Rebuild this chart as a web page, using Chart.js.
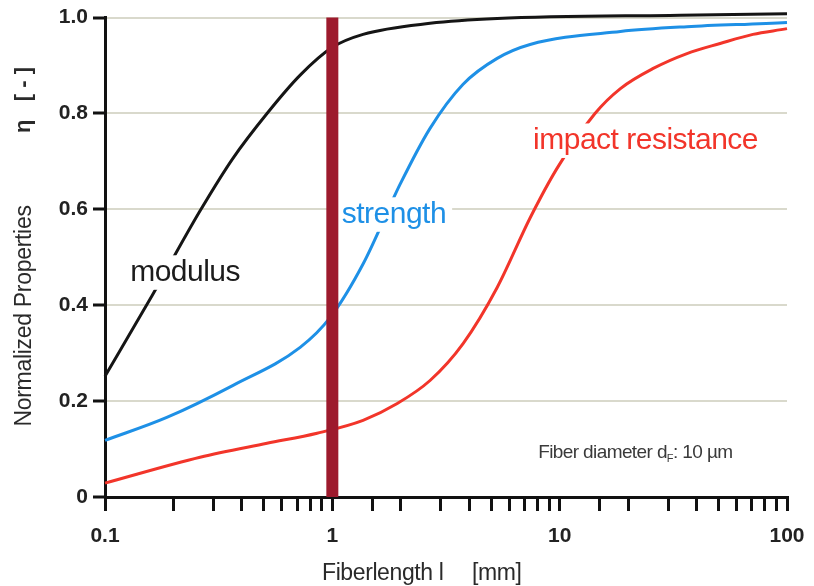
<!DOCTYPE html>
<html>
<head>
<meta charset="utf-8">
<script src="https://cdn.jsdelivr.net/npm/chart.js@4.4.1/dist/chart.umd.min.js"></script>
<style>
  body { margin: 0; background: #fff; }
</style>
</head>
<body>
<canvas id="fiberChart" width="814" height="586"></canvas>
<script>
//<-------- values (x = fiber length in mm, y = normalized property) -------->
const modulusX  = [0.1, 0.161, 0.262, 0.366, 0.516, 0.722, 1.0, 1.365, 2.69, 5.31, 33.9, 100, 130];
const modulusY  = [0.252, 0.42, 0.597, 0.707, 0.80, 0.88, 0.938, 0.965, 0.988, 0.998, 1.005, 1.008, 1.009];

const strengthX = [0.1, 0.187, 0.366, 0.722, 0.977, 1.365, 1.99, 2.69, 3.76, 5.31, 7.41, 18.5, 36.3, 100, 130];
const strengthY = [0.118, 0.166, 0.233, 0.312, 0.374, 0.486, 0.653, 0.769, 0.861, 0.915, 0.944, 0.971, 0.981, 0.99, 0.994];

const impactX   = [0.1, 0.262, 0.516, 0.857, 1.365, 1.93, 2.69, 3.76, 5.31, 7.41, 9.75, 14.3, 18.5, 25.8, 36.3, 50.8, 70.8, 100, 130];
const impactY   = [0.029, 0.083, 0.112, 0.133, 0.16, 0.195, 0.243, 0.32, 0.437, 0.582, 0.686, 0.80, 0.852, 0.894, 0.925, 0.946, 0.965, 0.977, 0.988];

// critical fiber length marker (1 mm)
const markerX = [1, 1];
const markerY = [0, 1];

const xTicksMain = [0.1, 1, 10, 100];
const yTicks = [0, 0.2, 0.4, 0.6, 0.8, 1.0];

// curve labels, anchored in data units (left edge, baseline)
const notes = [
  { text: "modulus",           x: 0.129, y: 0.451, color: "#1c1c1c", size: 30, spacing: -0.5 },
  { text: "strength",          x: 1.10,  y: 0.572, color: "#1e90e6", size: 30, spacing: -0.5 },
  { text: "impact resistance", x: 7.64,  y: 0.726, color: "#f2352a", size: 30, spacing: -0.5 }
];

function pts(xs, ys) {
  return xs.map((x, i) => ({ x: x, y: ys[i] }));
}

const textFont = "'Liberation Sans', Arial, sans-serif";

//<-------- labels, axis titles and the fiber diameter note -------->
const labelPlugin = {
  id: 'labels',
  // drawn just before the 1 mm bar so the bar stays on top of the label boxes
  beforeDatasetDraw(chart, args) {
    if (args.index !== 0) return;
    const ctx = chart.ctx;
    const xs = chart.scales.x, ys = chart.scales.y;
    ctx.save();
    notes.forEach(n => {
      ctx.font = n.size + "px " + textFont;
      ctx.letterSpacing = n.spacing + "px";
      const w = ctx.measureText(n.text).width;
      const px = xs.getPixelForValue(n.x);
      const py = ys.getPixelForValue(n.y);
      ctx.fillStyle = "#fff";
      ctx.fillRect(px - 6, py - n.size * 0.85, w + 12, n.size * 1.15);
      ctx.fillStyle = n.color;
      ctx.textBaseline = "alphabetic";
      ctx.fillText(n.text, px, py);
    });

    // Fiber diameter d_F: 10 µm
    ctx.fillStyle = "#3a3a3a";
    ctx.letterSpacing = "-0.6px";
    let fx = xs.getPixelForValue(8.04);
    const fy = ys.getPixelForValue(0.081);
    ctx.font = "19px " + textFont;
    ctx.fillText("Fiber diameter d", fx, fy);
    fx += ctx.measureText("Fiber diameter d").width;
    ctx.font = "11px " + textFont;
    ctx.fillText("F", fx, fy + 4);
    fx += ctx.measureText("F").width;
    ctx.font = "19px " + textFont;
    ctx.fillText(": 10 \u00b5m", fx, fy);
    ctx.restore();
  },
  afterDraw(chart) {
    const ctx = chart.ctx;
    const area = chart.chartArea;
    ctx.save();
    ctx.fillStyle = "#2a2a2a";
    ctx.textBaseline = "alphabetic";

    // x title
    ctx.font = "23px " + textFont;
    ctx.letterSpacing = "-0.4px";
    ctx.fillText("Fiberlength l", area.left + 217, 580);
    ctx.fillText("[mm]", area.left + 367, 580);

    // y title, rotated
    ctx.translate(31, 316);
    ctx.rotate(-Math.PI / 2);
    ctx.textAlign = "center";
    ctx.font = "23px " + textFont;
    ctx.letterSpacing = "-0.3px";
    ctx.fillText("Normalized Properties", 0, 0);
    ctx.font = "bold 22px " + textFont;
    ctx.letterSpacing = "0px";
    ctx.fillText("\u03b7   [ - ]", 216, -1);
    ctx.restore();
  }
};

new Chart(document.getElementById("fiberChart"), {
  type: 'line',
  data: {
    datasets: [
      { label: "1 mm", data: pts(markerX, markerY), borderColor: "#9d1a2d", borderWidth: 12, order: 0, clip: false },
      { label: "modulus", data: pts(modulusX, modulusY), borderColor: "#151515", borderWidth: 3, order: 1, clip: false },
      { label: "strength", data: pts(strengthX, strengthY), borderColor: "#1e90e6", borderWidth: 3, order: 2, clip: false },
      { label: "impact resistance", data: pts(impactX, impactY), borderColor: "#f2352a", borderWidth: 3, order: 3, clip: false }
    ]
  },
  options: {
    responsive: false,
    animation: false,
    elements: { point: { radius: 0 }, line: { cubicInterpolationMode: 'monotone', fill: false } },
    layout: { padding: { top: 16, right: 27, left: 0, bottom: 0 } },
    plugins: { legend: { display: false }, tooltip: { enabled: false } },
    scales: {
      x: {
        type: 'logarithmic',
        min: 0.1,
        max: 100,
        afterFit: s => { s.height = 89; s.paddingRight = 0; s.paddingLeft = 0; },
        border: { color: "#111", width: 3 },
        grid: { drawOnChartArea: false, tickLength: 14, tickColor: "#111", tickWidth: 3, color: "#111", lineWidth: 3 },
        ticks: {
          autoSkip: false,
          maxRotation: 0,
          padding: 13,
          color: "#222",
          font: { family: textFont, size: 21, weight: 'bold' },
          callback: function (v) {
            return xTicksMain.some(t => Math.abs(t - v) < 1e-9) ? String(v) : '';
          }
        }
      },
      y: {
        min: 0,
        max: 1,
        afterFit: s => { s.width = 105; },
        afterBuildTicks: s => { s.ticks = yTicks.map(v => ({ value: v })); },
        border: { color: "#111", width: 3 },
        grid: { color: "#d9d9cc", lineWidth: 2, tickColor: "#111", tickWidth: 3, tickLength: 12 },
        ticks: {
          padding: 5,
          color: "#222",
          font: { family: textFont, size: 21, weight: 'bold' },
          callback: v => v === 0 ? '0' : v.toFixed(1)
        }
      }
    }
  },
  plugins: [labelPlugin]
});
</script>
</body>
</html>
